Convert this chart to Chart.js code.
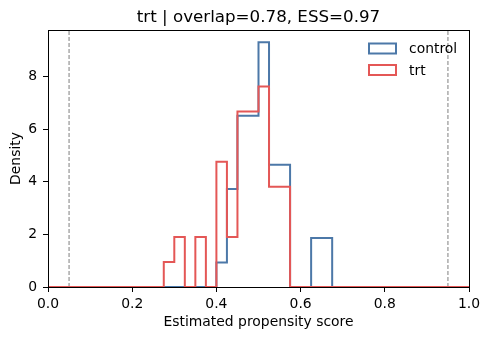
<!DOCTYPE html>
<html><head><meta charset="utf-8">
<script src="https://cdn.jsdelivr.net/npm/chart.js@4"></script>
<style>html,body{margin:0;padding:0;background:#fff}#wrap{width:490px;height:340px}</style>
</head><body><div id="wrap"><canvas id="c" width="490" height="340"></canvas></div>
<script>
// ---- data ----
const binEdges = [0.000,0.025,0.050,0.075,0.100,0.125,0.150,0.175,0.200,0.225,
  0.250,0.275,0.300,0.325,0.350,0.375,0.400,0.425,0.450,0.475,
  0.500,0.525,0.550,0.575,0.600,0.625,0.650,0.675,0.700,0.725,
  0.750,0.775,0.800,0.825,0.850,0.875,0.900,0.925,0.950,0.975,1.000];
const controlDensity = [0,0,0,0,0,0,0,0,0,0,
  0,0,0,0,0,0,0.93,3.72,6.51,6.51,
  9.30,4.65,4.65,0,0,1.86,1.86,0,0,0,
  0,0,0,0,0,0,0,0,0,0];
const trtDensity = [0,0,0,0,0,0,0,0,0,0,
  0,0.95,1.90,0,1.90,0,4.76,1.90,6.67,6.67,
  7.62,3.81,3.81,0,0,0,0,0,0,0,
  0,0,0,0,0,0,0,0,0,0];
const seriesNames = ["control","trt"];
const seriesColors = ["#4C78A8","#E45756"];
const trimLines = [0.05, 0.95];
const xTicks = [0.0,0.2,0.4,0.6,0.8,1.0];
const yTicks = [0,2,4,6,8];
const yMax = 9.767;
const titleText = "trt | overlap=0.78, ESS=0.97";
const xLabel = "Estimated propensity score";
const yLabel = "Density";

function stepPoints(dens){
  const pts = dens.map((d,i)=>({x:binEdges[i], y:d}));
  pts.push({x:binEdges[binEdges.length-1], y:dens[dens.length-1]});
  return pts;
}

const FONT = "'DejaVu Sans', sans-serif";
Chart.defaults.font.family = FONT;
Chart.defaults.font.size = 13.9;
Chart.defaults.color = '#000';

const datasets = [];
trimLines.forEach(v=>datasets.push({
  data:[{x:v,y:0},{x:v,y:yMax}], borderColor:'#7f7f7f', borderWidth:1,
  borderDash:[4,2], pointRadius:0, order:3, fill:false
}));
datasets.push({label:seriesNames[0], data:stepPoints(controlDensity), stepped:'before',
  borderColor:seriesColors[0], borderWidth:2, pointRadius:0, order:2, fill:false});
datasets.push({label:seriesNames[1], data:stepPoints(trtDensity), stepped:'before',
  borderColor:seriesColors[1], borderWidth:2, pointRadius:0, order:1, fill:false});

const deco = {
  id:'deco',
  afterDraw(chart){
    const ctx = chart.ctx, a = chart.chartArea;
    ctx.save();
    ctx.strokeStyle = '#000'; ctx.lineWidth = 1;
    ctx.strokeRect(Math.round(a.left)+0.5, Math.round(a.top)+0.5,
      Math.round(a.right)-Math.round(a.left), Math.round(a.bottom)-Math.round(a.top));
    // title
    ctx.fillStyle = '#000';
    ctx.font = "16.7px " + FONT;
    ctx.textAlign = 'center'; ctx.textBaseline = 'alphabetic';
    ctx.fillText(titleText, (a.left+a.right)/2, 22);
    // legend
    ctx.font = "13.9px " + FONT;
    ctx.textAlign = 'left'; ctx.textBaseline = 'middle';
    ctx.lineWidth = 2;
    seriesNames.forEach((n,i)=>{
      const y = 43.5 + i*21.5;
      ctx.strokeStyle = seriesColors[i];
      ctx.strokeRect(369, y, 27, 10);
      ctx.fillText(n, 409, y+6);
    });
    ctx.restore();
  }
};

new Chart(document.getElementById('c'), {
  type:'line',
  data:{datasets},
  options:{
    responsive:false, animation:false, devicePixelRatio:1,
    layout:{padding:{left:0,right:21,top:30,bottom:0}},
    plugins:{legend:{display:false}, tooltip:{enabled:false}, title:{display:false}},
    scales:{
      x:{type:'linear', min:0, max:1,
        afterBuildTicks:s=>{s.ticks = xTicks.map(v=>({value:v}));},
        afterFit:s=>{s.height = 53;},
        ticks:{callback:v=>Number(v).toFixed(1), padding:4, maxRotation:0, autoSkip:false},
        grid:{drawOnChartArea:false, drawTicks:true, tickLength:5, color:'#000'},
        border:{display:false},
        title:{display:true, text:xLabel, padding:{top:0,bottom:9}}
      },
      y:{type:'linear', min:0, max:yMax,
        afterBuildTicks:s=>{s.ticks = yTicks.map(v=>({value:v}));},
        afterFit:s=>{s.width = 48;},
        ticks:{callback:v=>String(v), padding:6, autoSkip:false},
        grid:{drawOnChartArea:false, drawTicks:true, tickLength:5, color:'#000'},
        border:{display:false},
        title:{display:true, text:yLabel, padding:{top:8,bottom:0}}
      }
    }
  },
  plugins:[deco]
});
</script></body></html>
